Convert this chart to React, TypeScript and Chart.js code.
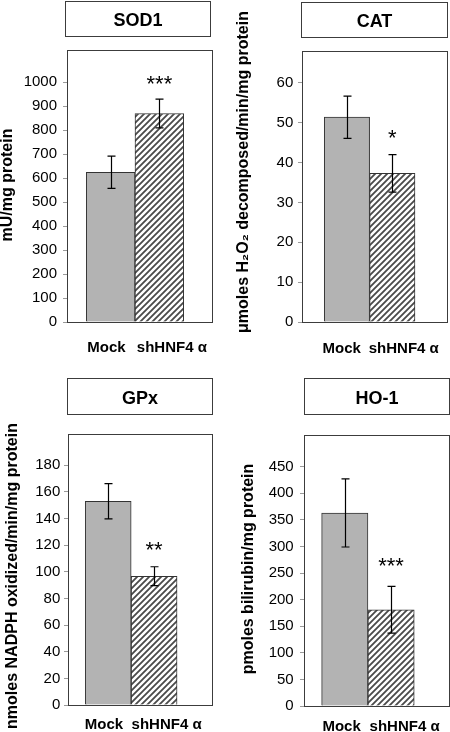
import React, { useEffect, useRef } from 'react';
import { Chart, registerables } from 'chart.js';

Chart.register(...registerables);

const FONT = '"Liberation Sans", Arial, Helvetica, sans-serif';

// ---------------- data ----------------
const groups = ['Mock', 'shHNF4 α'];

const sod1Values = [625, 870];
const sod1Errors = [67, 60];
const sod1Ticks = [0, 100, 200, 300, 400, 500, 600, 700, 800, 900, 1000];
const sod1Stars = ['', '***'];

const catValues = [51.4, 37.3];
const catErrors = [5.3, 4.7];
const catTicks = [0, 10, 20, 30, 40, 50, 60];
const catStars = ['', '*'];

const gpxValues = [153, 96.7];
const gpxErrors = [13.3, 7.1];
const gpxTicks = [0, 20, 40, 60, 80, 100, 120, 140, 160, 180];
const gpxStars = ['', '**'];

const ho1Values = [363, 181];
const ho1Errors = [64, 44];
const ho1Ticks = [0, 50, 100, 150, 200, 250, 300, 350, 400, 450];
const ho1Stars = ['', '***'];

// ---------------- layout ----------------
const W = 225;
const H = 366;

type Spec = {
  left: number;
  top: number;
  title: string;
  yTitle: string;
  values: number[];
  errors: number[];
  ticks: number[];
  stars: string[];
  yMax: number;
  xMin: number;
  xMax: number;
  plot: { l: number; r: number; t: number; b: number };
  box: { x: number; y: number; w: number; h: number };
  yTitleAt: { x: number; y: number };
  yTickPad: number;
  xTickPad: number;
  labelShift: number;
  starGap: number;
};

const specs: Spec[] = [
  {
    left: 0, top: 0, title: 'SOD1', yTitle: 'mU/mg protein',
    values: sod1Values, errors: sod1Errors, ticks: sod1Ticks, stars: sod1Stars,
    yMax: 1135, xMin: 0.104, xMax: 3.081,
    plot: { l: 67, r: 212, t: 50, b: 322 },
    box: { x: 65, y: 1, w: 145, h: 35 },
    yTitleAt: { x: 8, y: 185 }, yTickPad: 6, xTickPad: 16.5, labelShift: 0, starGap: 20.5,
  },
  {
    left: 225, top: 0, title: 'CAT', yTitle: 'μmoles H₂O₂ decomposed/min/mg protein',
    values: catValues, errors: catErrors, ticks: catTicks, stars: catStars,
    yMax: 68, xMin: 0.009, xMax: 3.206,
    plot: { l: 77, r: 222, t: 51, b: 322 },
    box: { x: 76, y: 2, w: 146, h: 35 },
    yTitleAt: { x: 19, y: 172 }, yTickPad: 4.7, xTickPad: 17.8, labelShift: -1, starGap: 22.6,
  },
  {
    left: 0, top: 366, title: 'GPx', yTitle: 'nmoles NADPH oxidized/min/mg protein',
    values: gpxValues, errors: gpxErrors, ticks: gpxTicks, stars: gpxStars,
    yMax: 203.5, xMin: 0.124, xMax: 3.261,
    plot: { l: 68, r: 212, t: 68, b: 339 },
    box: { x: 67, y: 12, w: 145, h: 36 },
    yTitleAt: { x: 13, y: 210 }, yTickPad: 3.7, xTickPad: 10.8, labelShift: 0, starGap: 22.7,
  },
  {
    left: 225, top: 366, title: 'HO-1', yTitle: 'pmoles bilirubin/mg protein',
    values: ho1Values, errors: ho1Errors, ticks: ho1Ticks, stars: ho1Stars,
    yMax: 509.6, xMin: 0.119, xMax: 3.251,
    plot: { l: 79, r: 224, t: 69, b: 340 },
    box: { x: 79, y: 12, w: 145, h: 36 },
    yTitleAt: { x: 24, y: 203 }, yTickPad: 6.3, xTickPad: 12.2, labelShift: 1, starGap: 26,
  },
];

function xLabel(i: number): string {
  const nb = '\u00a0';
  if (i === 0) return groups[0] + nb + nb;
  return nb.repeat(6) + groups[1];
}

function makeHatch(ctx: CanvasRenderingContext2D): CanvasPattern | string {
  const s = 6;
  const c = document.createElement('canvas');
  c.width = s;
  c.height = s;
  const g = c.getContext('2d');
  if (!g) return '#ccc';
  g.fillStyle = '#ffffff';
  g.fillRect(0, 0, s, s);
  g.strokeStyle = '#4a4a4a';
  g.lineWidth = 1.8;
  g.beginPath();
  for (const o of [-s, 0, s]) {
    g.moveTo(o - 1, s + 1);
    g.lineTo(o + s + 1, -1);
  }
  g.stroke();
  return ctx.createPattern(c, 'repeat') || '#ccc';
}

function makeDecor(s: Spec) {
  return {
    id: 'decor',
    afterDraw(chart: any) {
      const { ctx, chartArea: a } = chart;
      const yScale = chart.scales.y;
      ctx.save();

      // title box
      ctx.strokeStyle = '#3c3c3c';
      ctx.lineWidth = 1;
      ctx.strokeRect(s.box.x + 0.5, s.box.y + 0.5, s.box.w, s.box.h);
      ctx.fillStyle = '#000';
      ctx.font = `bold 18px ${FONT}`;
      ctx.textAlign = 'center';
      ctx.textBaseline = 'alphabetic';
      ctx.fillText(s.title, s.box.x + s.box.w / 2 + 0.5, s.box.y + s.box.h / 2 + 7.5);

      // plot border
      ctx.strokeStyle = '#3c3c3c';
      ctx.strokeRect(
        Math.round(a.left) + 0.5,
        Math.round(a.top) + 0.5,
        Math.round(a.right - a.left),
        Math.round(a.bottom - a.top)
      );

      // error bars + significance
      const meta = chart.getDatasetMeta(0);
      ctx.strokeStyle = '#000';
      ctx.lineWidth = 1.2;
      meta.data.forEach((el: any, i: number) => {
        const x = Math.round(el.x) + 0.5;
        const yHi = yScale.getPixelForValue(s.values[i] + s.errors[i]);
        const yLo = yScale.getPixelForValue(s.values[i] - s.errors[i]);
        ctx.beginPath();
        ctx.moveTo(x, yHi);
        ctx.lineTo(x, yLo);
        ctx.moveTo(x - 4, yHi);
        ctx.lineTo(x + 4, yHi);
        ctx.moveTo(x - 4, yLo);
        ctx.lineTo(x + 4, yLo);
        ctx.stroke();
        const star = s.stars[i];
        if (star) {
          ctx.font = `22px ${FONT}`;
          ctx.textAlign = 'center';
          ctx.textBaseline = 'alphabetic';
          ctx.fillStyle = '#000';
          ctx.fillText(star, el.x, yHi - s.starGap + 12.8);
        }
      });

      // y-axis title
      ctx.translate(s.yTitleAt.x, s.yTitleAt.y);
      ctx.rotate(-Math.PI / 2);
      ctx.font = `bold 16px ${FONT}`;
      ctx.textAlign = 'center';
      ctx.textBaseline = 'middle';
      ctx.fillStyle = '#000';
      ctx.fillText(s.yTitle, 0, 0);

      ctx.restore();
    },
  };
}

function Panel({ spec }: { spec: Spec }) {
  const ref = useRef<HTMLCanvasElement>(null);
  useEffect(() => {
    const canvas = ref.current;
    if (!canvas) return;
    const ctx = canvas.getContext('2d');
    if (!ctx) return;
    const hatch = makeHatch(ctx);
    const s = spec;
    const chart = new Chart(ctx, {
      type: 'bar',
      data: {
        datasets: [
          {
            data: s.values.map((v, i) => ({ x: i + 1, y: v })),
            backgroundColor: ['#b3b3b3', hatch] as any,
            borderColor: '#333333',
            borderWidth: 1,
            barPercentage: 1,
            categoryPercentage: 1,
          },
        ],
      },
      options: {
        responsive: false,
        animation: false,
        devicePixelRatio: 1,
        layout: { padding: { left: 0, top: s.plot.t, right: W - s.plot.r, bottom: 0 } },
        plugins: {
          legend: { display: false },
          tooltip: { enabled: false },
          title: { display: false },
        },
        scales: {
          x: {
            type: 'linear',
            offset: false,
            min: s.xMin,
            max: s.xMax,
            grid: { display: false, drawTicks: false, offset: false },
            border: { display: false },
            afterBuildTicks: (ax: any) => {
              ax.ticks = groups.map((_, i) => ({ value: i + 1 }));
            },
            afterFit: (ax: any) => {
              ax.height = H - s.plot.b;
              ax.paddingLeft = 0;
              ax.paddingRight = 0;
              ax.paddingTop = 0;
              ax.paddingBottom = 0;
            },
            ticks: {
              padding: s.xTickPad,
              labelOffset: s.labelShift,
              maxRotation: 0,
              autoSkip: false,
              color: '#000',
              font: { family: FONT, size: 15, weight: 'bold' },
              callback: (_v: any, i: number) => xLabel(i),
            },
          },
          y: {
            type: 'linear',
            min: 0,
            max: s.yMax,
            grid: { drawOnChartArea: false, drawTicks: true, tickLength: 4, color: '#9a9a9a' },
            border: { display: false },
            afterBuildTicks: (ax: any) => {
              ax.ticks = s.ticks.map((v) => ({ value: v }));
            },
            afterFit: (ax: any) => {
              ax.width = s.plot.l;
              ax.paddingLeft = 0;
              ax.paddingRight = 0;
              ax.paddingTop = 0;
              ax.paddingBottom = 0;
            },
            ticks: {
              padding: s.yTickPad,
              autoSkip: false,
              color: '#000',
              font: { family: FONT, size: 15 },
              callback: (v: any) => String(v),
            },
          },
        },
      } as any,
      plugins: [makeDecor(s)],
    });
    return () => chart.destroy();
  }, [spec]);
  return (
    <canvas
      ref={ref}
      width={W}
      height={H}
      style={{ position: 'absolute', left: spec.left, top: spec.top, width: W, height: H }}
    />
  );
}

export default function App() {
  return (
    <div style={{ position: 'absolute', left: 0, top: 0, width: 450, height: 732, background: '#fff', overflow: 'hidden' }}>
      {specs.map((s) => (
        <Panel key={s.title} spec={s} />
      ))}
    </div>
  );
}
